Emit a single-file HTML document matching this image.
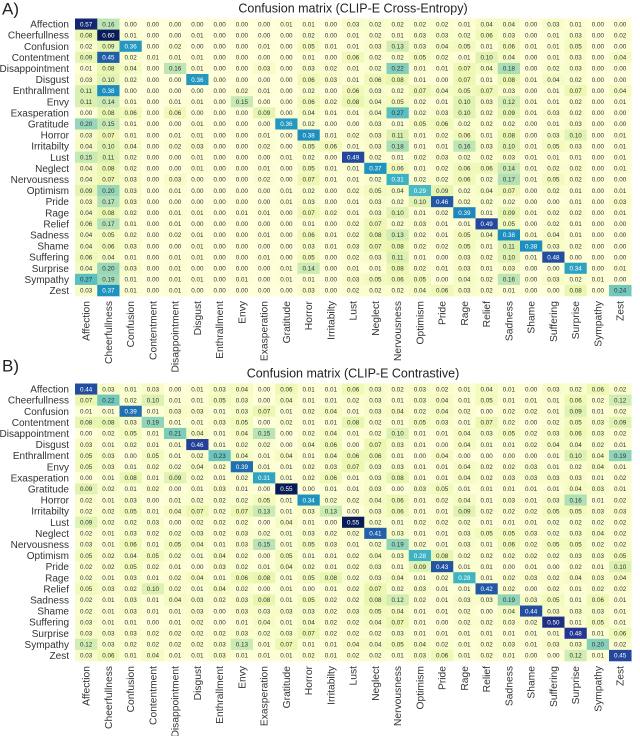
<!DOCTYPE html>
<html><head><meta charset="utf-8"><style>
html,body{margin:0;padding:0;background:#fff;width:640px;height:736px;overflow:hidden}
svg{display:block;font-family:"Liberation Sans","DejaVu Sans",sans-serif}
</style></head><body>
<svg id="chart" width="640" height="736" viewBox="0 0 640 736"></svg>
<script>
const labels = ["Affection","Cheerfullness","Confusion","Contentment","Disappointment","Disgust","Enthrallment","Envy","Exasperation","Gratitude","Horror","Irritabilty","Lust","Neglect","Nervousness","Optimism","Pride","Rage","Relief","Sadness","Shame","Suffering","Surprise","Sympathy","Zest"];
const colLabels = ["Affection","Cheerfullness","Confusion","Contentment","Disappointment","Disgust","Enthrallment","Envy","Exasperation","Gratitude","Horror","Irritabilty","Lust","Neglect","Nervousness","Optimism","Pride","Rage","Relief","Sadness","Shame","Suffering","Surprise","Sympathy","Zest"];
const matrixA = [
[0.57,0.16,0.00,0.00,0.00,0.00,0.00,0.00,0.00,0.01,0.01,0.00,0.03,0.02,0.02,0.02,0.02,0.01,0.04,0.04,0.00,0.03,0.01,0.00,0.00],
[0.08,0.60,0.01,0.00,0.00,0.01,0.00,0.00,0.00,0.00,0.02,0.00,0.01,0.02,0.01,0.03,0.03,0.02,0.06,0.03,0.00,0.01,0.03,0.00,0.02],
[0.02,0.09,0.36,0.00,0.02,0.00,0.00,0.00,0.01,0.00,0.05,0.01,0.01,0.03,0.13,0.03,0.04,0.05,0.01,0.06,0.01,0.01,0.05,0.00,0.00],
[0.09,0.45,0.02,0.01,0.01,0.01,0.00,0.00,0.00,0.00,0.01,0.00,0.06,0.02,0.02,0.05,0.02,0.01,0.10,0.04,0.00,0.01,0.03,0.00,0.04],
[0.01,0.08,0.04,0.00,0.16,0.01,0.00,0.00,0.03,0.00,0.03,0.02,0.01,0.02,0.22,0.01,0.01,0.07,0.04,0.18,0.00,0.02,0.03,0.00,0.00],
[0.03,0.10,0.02,0.00,0.00,0.36,0.00,0.00,0.00,0.00,0.06,0.03,0.01,0.06,0.08,0.01,0.00,0.07,0.01,0.08,0.01,0.04,0.02,0.00,0.00],
[0.11,0.38,0.00,0.00,0.00,0.00,0.00,0.02,0.01,0.00,0.02,0.00,0.06,0.03,0.02,0.07,0.04,0.05,0.07,0.03,0.00,0.01,0.07,0.00,0.04],
[0.11,0.14,0.01,0.00,0.01,0.01,0.00,0.15,0.00,0.00,0.06,0.02,0.08,0.04,0.05,0.02,0.01,0.10,0.03,0.12,0.01,0.01,0.02,0.00,0.01],
[0.00,0.08,0.06,0.00,0.06,0.00,0.00,0.00,0.09,0.00,0.04,0.01,0.01,0.04,0.27,0.02,0.03,0.10,0.02,0.09,0.01,0.03,0.02,0.00,0.00],
[0.20,0.15,0.01,0.00,0.00,0.01,0.00,0.00,0.00,0.36,0.02,0.00,0.00,0.03,0.01,0.05,0.06,0.02,0.02,0.02,0.00,0.01,0.03,0.00,0.00],
[0.03,0.07,0.01,0.00,0.01,0.01,0.00,0.00,0.01,0.00,0.38,0.01,0.02,0.03,0.11,0.01,0.02,0.06,0.01,0.08,0.00,0.03,0.10,0.00,0.01],
[0.04,0.10,0.04,0.00,0.02,0.03,0.00,0.00,0.02,0.00,0.05,0.06,0.01,0.03,0.18,0.01,0.01,0.16,0.03,0.10,0.01,0.05,0.03,0.00,0.01],
[0.15,0.11,0.02,0.00,0.00,0.01,0.00,0.00,0.00,0.01,0.02,0.00,0.49,0.02,0.01,0.02,0.03,0.02,0.02,0.03,0.01,0.01,0.01,0.00,0.01],
[0.04,0.08,0.02,0.00,0.00,0.01,0.00,0.00,0.01,0.00,0.05,0.01,0.01,0.37,0.06,0.01,0.02,0.06,0.06,0.14,0.01,0.02,0.02,0.00,0.01],
[0.04,0.07,0.03,0.00,0.03,0.00,0.00,0.00,0.02,0.00,0.07,0.01,0.01,0.02,0.31,0.02,0.02,0.06,0.02,0.17,0.01,0.05,0.02,0.00,0.00],
[0.09,0.20,0.03,0.00,0.01,0.00,0.00,0.00,0.00,0.01,0.02,0.00,0.02,0.05,0.04,0.29,0.09,0.02,0.04,0.07,0.00,0.02,0.01,0.00,0.01],
[0.03,0.17,0.03,0.00,0.00,0.00,0.00,0.00,0.00,0.01,0.03,0.00,0.01,0.03,0.02,0.10,0.46,0.02,0.02,0.02,0.00,0.00,0.01,0.00,0.03],
[0.04,0.08,0.02,0.00,0.01,0.01,0.00,0.01,0.01,0.00,0.07,0.02,0.01,0.03,0.10,0.01,0.02,0.39,0.01,0.09,0.01,0.02,0.02,0.00,0.01],
[0.06,0.17,0.01,0.00,0.01,0.00,0.00,0.00,0.00,0.00,0.01,0.00,0.02,0.07,0.02,0.03,0.01,0.01,0.49,0.05,0.00,0.02,0.01,0.00,0.00],
[0.04,0.05,0.02,0.00,0.02,0.01,0.00,0.00,0.01,0.00,0.06,0.01,0.02,0.08,0.13,0.02,0.01,0.05,0.04,0.38,0.01,0.04,0.01,0.00,0.00],
[0.04,0.06,0.03,0.00,0.00,0.01,0.00,0.00,0.00,0.00,0.03,0.01,0.03,0.07,0.08,0.02,0.02,0.05,0.01,0.11,0.38,0.03,0.02,0.00,0.00],
[0.06,0.04,0.01,0.00,0.01,0.01,0.00,0.00,0.01,0.00,0.05,0.00,0.02,0.03,0.11,0.01,0.00,0.03,0.02,0.10,0.01,0.48,0.00,0.00,0.00],
[0.04,0.20,0.03,0.00,0.01,0.00,0.00,0.00,0.00,0.01,0.14,0.00,0.01,0.01,0.08,0.02,0.01,0.03,0.01,0.03,0.00,0.00,0.34,0.00,0.01],
[0.27,0.19,0.01,0.00,0.01,0.01,0.00,0.01,0.00,0.01,0.01,0.00,0.03,0.05,0.06,0.05,0.00,0.04,0.02,0.16,0.00,0.03,0.02,0.01,0.00],
[0.03,0.37,0.01,0.00,0.01,0.00,0.00,0.00,0.00,0.00,0.03,0.00,0.02,0.02,0.02,0.04,0.06,0.03,0.02,0.01,0.00,0.00,0.08,0.00,0.24]
];
const matrixB = [
[0.44,0.03,0.01,0.03,0.00,0.01,0.03,0.04,0.00,0.06,0.01,0.01,0.06,0.03,0.02,0.03,0.02,0.01,0.04,0.01,0.00,0.03,0.02,0.06,0.02],
[0.07,0.22,0.02,0.10,0.01,0.01,0.05,0.03,0.00,0.04,0.01,0.01,0.02,0.03,0.01,0.03,0.04,0.01,0.05,0.01,0.01,0.01,0.06,0.02,0.12],
[0.01,0.01,0.39,0.01,0.03,0.03,0.01,0.03,0.07,0.01,0.02,0.04,0.01,0.03,0.04,0.02,0.04,0.02,0.00,0.02,0.02,0.01,0.09,0.01,0.02],
[0.08,0.08,0.03,0.19,0.01,0.01,0.03,0.05,0.00,0.02,0.01,0.01,0.08,0.02,0.01,0.05,0.03,0.01,0.07,0.02,0.00,0.02,0.05,0.03,0.09],
[0.00,0.02,0.05,0.01,0.21,0.04,0.01,0.04,0.15,0.00,0.02,0.04,0.01,0.02,0.10,0.01,0.01,0.04,0.03,0.05,0.02,0.03,0.06,0.03,0.02],
[0.03,0.01,0.02,0.01,0.01,0.46,0.01,0.02,0.02,0.00,0.04,0.06,0.00,0.07,0.03,0.01,0.00,0.04,0.01,0.01,0.02,0.04,0.04,0.02,0.01],
[0.05,0.03,0.00,0.05,0.01,0.02,0.23,0.04,0.01,0.04,0.01,0.04,0.06,0.06,0.01,0.00,0.04,0.00,0.00,0.00,0.00,0.01,0.10,0.04,0.19],
[0.05,0.03,0.01,0.02,0.02,0.04,0.02,0.39,0.01,0.01,0.02,0.03,0.07,0.03,0.03,0.01,0.01,0.04,0.02,0.02,0.03,0.01,0.02,0.04,0.01],
[0.00,0.01,0.08,0.01,0.09,0.02,0.01,0.02,0.31,0.01,0.02,0.06,0.01,0.03,0.08,0.01,0.01,0.04,0.02,0.03,0.03,0.03,0.03,0.01,0.02],
[0.09,0.02,0.01,0.02,0.00,0.01,0.03,0.01,0.00,0.55,0.00,0.01,0.01,0.03,0.00,0.03,0.05,0.01,0.01,0.01,0.01,0.01,0.04,0.03,0.01],
[0.02,0.01,0.03,0.00,0.01,0.02,0.02,0.02,0.05,0.01,0.34,0.02,0.02,0.04,0.06,0.01,0.02,0.04,0.01,0.03,0.01,0.03,0.16,0.01,0.02],
[0.02,0.02,0.05,0.01,0.04,0.07,0.02,0.07,0.13,0.01,0.03,0.13,0.00,0.03,0.06,0.01,0.01,0.09,0.02,0.02,0.02,0.05,0.05,0.03,0.03],
[0.09,0.02,0.02,0.03,0.00,0.02,0.02,0.02,0.00,0.04,0.01,0.00,0.55,0.02,0.01,0.02,0.02,0.02,0.01,0.01,0.01,0.02,0.02,0.02,0.02],
[0.02,0.01,0.03,0.02,0.02,0.03,0.02,0.03,0.02,0.01,0.03,0.02,0.02,0.41,0.03,0.01,0.01,0.03,0.05,0.05,0.03,0.02,0.03,0.04,0.02],
[0.03,0.01,0.06,0.01,0.05,0.04,0.01,0.03,0.15,0.01,0.05,0.03,0.01,0.02,0.19,0.02,0.01,0.03,0.01,0.06,0.02,0.05,0.05,0.02,0.02],
[0.05,0.02,0.04,0.05,0.02,0.01,0.04,0.02,0.00,0.05,0.01,0.01,0.02,0.04,0.03,0.28,0.08,0.02,0.02,0.02,0.02,0.02,0.03,0.03,0.05],
[0.02,0.02,0.05,0.02,0.01,0.00,0.03,0.02,0.01,0.04,0.02,0.01,0.02,0.03,0.01,0.09,0.43,0.01,0.01,0.00,0.01,0.00,0.02,0.01,0.10],
[0.02,0.01,0.03,0.01,0.02,0.04,0.01,0.06,0.08,0.01,0.05,0.08,0.02,0.03,0.04,0.01,0.02,0.28,0.01,0.02,0.03,0.02,0.04,0.03,0.04],
[0.05,0.03,0.02,0.10,0.02,0.01,0.04,0.02,0.00,0.01,0.00,0.01,0.02,0.07,0.02,0.03,0.01,0.01,0.42,0.02,0.00,0.02,0.01,0.02,0.02],
[0.02,0.01,0.03,0.01,0.04,0.03,0.02,0.03,0.08,0.01,0.05,0.02,0.02,0.08,0.12,0.02,0.01,0.03,0.03,0.19,0.03,0.05,0.01,0.06,0.01],
[0.02,0.01,0.03,0.01,0.01,0.03,0.00,0.03,0.03,0.03,0.03,0.02,0.03,0.05,0.04,0.01,0.01,0.02,0.00,0.04,0.44,0.03,0.03,0.03,0.01],
[0.03,0.01,0.01,0.00,0.01,0.02,0.00,0.01,0.04,0.01,0.04,0.02,0.02,0.04,0.07,0.01,0.00,0.02,0.02,0.03,0.02,0.50,0.01,0.05,0.01],
[0.03,0.03,0.03,0.02,0.02,0.02,0.02,0.03,0.02,0.03,0.07,0.02,0.02,0.02,0.03,0.01,0.01,0.01,0.01,0.01,0.01,0.01,0.48,0.01,0.06],
[0.12,0.03,0.02,0.02,0.02,0.02,0.03,0.13,0.01,0.07,0.01,0.01,0.04,0.04,0.05,0.04,0.02,0.01,0.02,0.03,0.01,0.03,0.03,0.20,0.02],
[0.03,0.06,0.01,0.04,0.01,0.01,0.03,0.01,0.01,0.01,0.02,0.01,0.02,0.02,0.01,0.03,0.06,0.01,0.02,0.01,0.00,0.00,0.12,0.01,0.45]
];
const titles = ["Confusion matrix (CLIP-E Cross-Entropy)","Confusion matrix (CLIP-E Contrastive)"];
const panelTags = ["A)","B)"];

const NS="http://www.w3.org/2000/svg";
const svg=document.getElementById('chart');
const stops=[[255,255,217],[237,248,177],[199,233,180],[127,205,187],[65,182,196],[29,145,192],[34,94,168],[37,52,148],[8,29,88]];
function cmap(t){t=Math.max(0,Math.min(1,t))*(stops.length-1);const i=Math.min(stops.length-2,Math.floor(t));const f=t-i;
 const c=stops[i].map((v,k)=>Math.round(v+(stops[i+1][k]-v)*f));return `rgb(${c[0]},${c[1]},${c[2]})`;}
function mk(tag,attrs,parent){const e=document.createElementNS(NS,tag);for(const k in attrs)e.setAttribute(k,attrs[k]);(parent||svg).appendChild(e);return e;}

const X0=75, CW=22.25, RH=11.1;
const panelTops=[18.5,383.5];
const xScale=j=>X0+j*CW;
function drawPanel(p,mat){
  const top=panelTops[p];
  const yScale=i=>top+i*RH;
  const g=mk('g',{});
  
  
  const tag=mk('text',{x:2,y:top-(p===0?4:12),'font-size':17,fill:'#222'},g);tag.textContent=panelTags[p];
  
  
  const tt=mk('text',{x:353,y:top-6,'font-size':12.5,'text-anchor':'middle',fill:'#222'},g);tt.textContent=titles[p];
  
  
  const vmax=Math.max(...mat.flat());
  for(let i=0;i<mat.length;i++){
    for(let j=0;j<mat[i].length;j++){
      const v=mat[i][j];
      const r=mk('rect',{x:xScale(j),y:yScale(i),width:CW+0.3,height:RH+0.3,fill:cmap(v/vmax)},g);
      
      
      const t=mk('text',{x:xScale(j)+CW/2,y:yScale(i)+RH/2+2.2,'font-size':6.3,'text-anchor':'middle',fill:v>vmax*0.48?'#fff':'#333'},g);
      t.textContent=v.toFixed(2);
      
      
    }
    const rl=mk('text',{x:69,y:yScale(i)+RH/2+3.5,'font-size':10,'text-anchor':'end',fill:'#333'},g);
    rl.textContent=labels[i];
    
    
  }
  const bottom=yScale(mat.length);
  for(let j=0;j<colLabels.length;j++){
    const cx=xScale(j)+CW/2+3.5, cy=bottom+5;
    const cl=mk('text',{x:cx,y:cy,'font-size':10.3,'text-anchor':'end',fill:'#333',transform:`rotate(-90 ${cx} ${cy})`},g);
    cl.textContent=colLabels[j];
    
    
  }
}
drawPanel(0,matrixA);
drawPanel(1,matrixB);
</script>
</body></html>
